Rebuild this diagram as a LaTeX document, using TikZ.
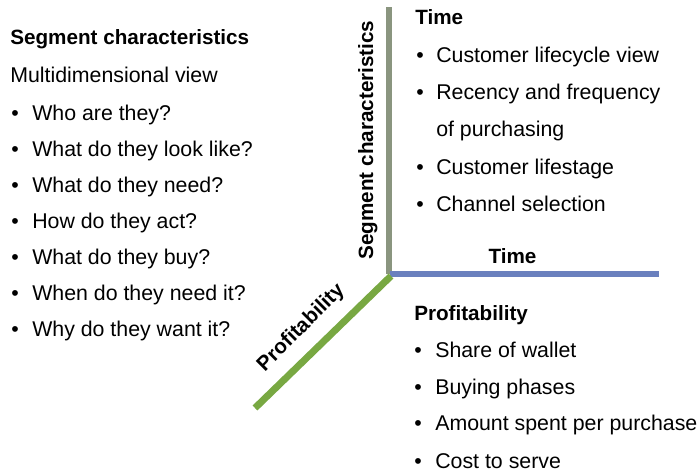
\documentclass[tikz,border=0pt]{standalone}
\usepackage{fontspec}
\setmainfont{Liberation Sans}
\definecolor{axisgray}{HTML}{8A957F}
\definecolor{axisblue}{HTML}{6A80BE}
\definecolor{axisgreen}{HTML}{78A842}
\tikzset{
  txt/.style={anchor=base west, inner sep=0pt, font=\fontsize{16pt}{18pt}\selectfont},
  head/.style={anchor=base west, inner sep=0pt, font=\fontsize{15.5pt}{18pt}\selectfont\bfseries},
  blt/.style={anchor=base, inner sep=0pt, font=\fontsize{16pt}{18pt}\selectfont},
  axlabel/.style={anchor=base, inner sep=0pt, font=\fontsize{15.5pt}{18pt}\selectfont\bfseries},
  axis/.style={line width=5.2pt, line cap=butt}
}
\begin{document}
\begin{tikzpicture}[x=0.75pt,y=-0.75pt]
\useasboundingbox (0,0) rectangle (698,474);
% axes
\coordinate (o) at (389,274);
\coordinate (top) at (389,7);
\coordinate (right) at (659,274);
\coordinate (dl) at (255,408);
\draw[axis, axisgray] (o) -- (top);
\draw[axis, axisblue] ([xshift=0.5]o) -- (right);
\draw[axis, axisgreen] ([xshift=1.5,yshift=-1.5]o) -- (dl);
% axis labels
\node[axlabel, rotate=90] (ysc) at (373,140) {Segment characteristics};
\node[axlabel] (xt) at (512.5,263) {Time};
\node[axlabel, rotate=45] (zp) at (305,332) {Profitability};
% left column
\node[head] (lh) at (10,44.5) {Segment characteristics};
\node[txt] (lsub) at (10,82.5) {Multidimensional view};
\foreach \t [count=\i] in {Who are they?, What do they look like?, What do they need?, How do they act?, What do they buy?, When do they need it?, Why do they want it?}{
  \node[blt] (lb\i) at (15,{120.7+36*(\i-1)}) {•};
  \node[txt] (lt\i) at (32,{120.7+36*(\i-1)}) {\t};
}
% top right
\node[head] (th) at (415,25) {Time};
\node[blt] (tb1) at (420,62.7) {•};
\node[txt] (tt1) at (436,62.7) {Customer lifecycle view};
\node[blt] (tb2) at (420,99.5) {•};
\node[txt] (tt2) at (436,99.5) {Recency and frequency};
\node[txt] (tt2b) at (436,136.7) {of purchasing};
\node[blt] (tb3) at (420,174.3) {•};
\node[txt] (tt3) at (436,174.3) {Customer lifestage};
\node[blt] (tb4) at (420,211.7) {•};
\node[txt] (tt4) at (436,211.7) {Channel selection};
% bottom right
\node[head] (ph) at (414,320) {Profitability};
\node[blt] (pb1) at (418,357) {•};
\node[txt] (pt1) at (435,357) {Share of wallet};
\node[blt] (pb2) at (418,394.5) {•};
\node[txt] (pt2) at (435,394.5) {Buying phases};
\node[blt] (pb3) at (418,430.5) {•};
\node[txt] (pt3) at (435,430.5) {Amount spent per purchase};
\node[blt] (pb4) at (418,468) {•};
\node[txt] (pt4) at (435,468) {Cost to serve};
\end{tikzpicture}
\end{document}
